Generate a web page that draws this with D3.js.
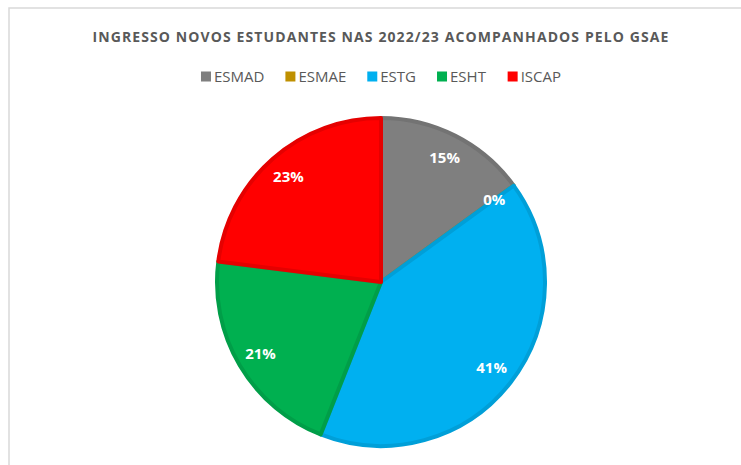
<!DOCTYPE html>
<html>
<head>
<meta charset="utf-8">
<script src="https://cdn.jsdelivr.net/npm/d3@7"></script>
<style>
  body { margin: 0; background: #fff; }
  svg { display: block; }
  .title { font-family: "Open Sans", "Liberation Sans", sans-serif; font-weight: bold; font-size: 14px; fill: #595959; letter-spacing: 1.1px; }
  .legend text { font-family: "Open Sans", "Liberation Sans", sans-serif; font-size: 15px; fill: #595959; }
  .label { font-family: "Open Sans", "Liberation Sans", sans-serif; font-weight: bold; font-size: 15px; fill: #fff; }
</style>
</head>
<body>
<script>
// data
const categories = ["ESMAD", "ESMAE", "ESTG", "ESHT", "ISCAP"];
const values = [15, 0, 41, 21, 23];
const fills = ["#7f7f7f", "#bf9000", "#00b0f0", "#00b050", "#ff0000"];
const strokes = ["#737373", "#ac8200", "#009fd8", "#009e48", "#e50000"];
const titleText = "INGRESSO NOVOS ESTUDANTES NAS 2022/23 ACOMPANHADOS PELO GSAE";

const width = 741, height = 465;
const cx = 381, cy = 282, radius = 164;

const svg = d3.select("body").append("svg")
    .attr("width", width)
    .attr("height", height);

// chart area border
svg.append("rect")
    .attr("x", 9).attr("y", 8)
    .attr("width", 760).attr("height", 480)
    .attr("fill", "none")
    .attr("stroke", "#d9d9d9")
    .attr("stroke-width", 1.5);

svg.append("text")
    .attr("class", "title")
    .attr("x", cx).attr("y", 42)
    .attr("text-anchor", "middle")
    .text(titleText);

// legend, laid out from text widths and centered
const legend = svg.append("g").attr("class", "legend");
let items = legend.selectAll("g")
    .data(categories)
    .join("g");
items.append("rect")
    .attr("width", 10).attr("height", 10)
    .attr("y", -10.5)
    .attr("fill", (d, i) => fills[i]);
items.append("text")
    .attr("x", 13)
    .text(d => d);
let gap = 21;
let xPos = 0;
items.each(function() {
    let w = this.getBBox().width;
    d3.select(this).attr("transform", "translate(" + xPos + ",0)");
    xPos += w + gap;
});
let total = xPos - gap;
legend.attr("transform", "translate(" + (cx - total / 2) + ",82)");

// pie
const pie = d3.pie().sort(null).value(d => d);
const arcs = pie(values);
const arc = d3.arc().innerRadius(0).outerRadius(radius);
const labelArc = d3.arc().innerRadius(140).outerRadius(140);

const g = svg.append("g").attr("transform", "translate(" + cx + "," + cy + ")");

g.selectAll("path")
    .data(arcs)
    .join("path")
    .attr("d", arc)
    .attr("fill", (d, i) => fills[i])
    .attr("stroke", (d, i) => strokes[i])
    .attr("stroke-width", 4)
    .attr("stroke-linejoin", "round");

g.selectAll("text")
    .data(arcs)
    .join("text")
    .attr("class", "label")
    .attr("transform", d => "translate(" + labelArc.centroid(d) + ")")
    .attr("text-anchor", "middle")
    .attr("dy", "0.35em")
    .text(d => Math.round(d.value) + "%");
</script>
</body>
</html>
